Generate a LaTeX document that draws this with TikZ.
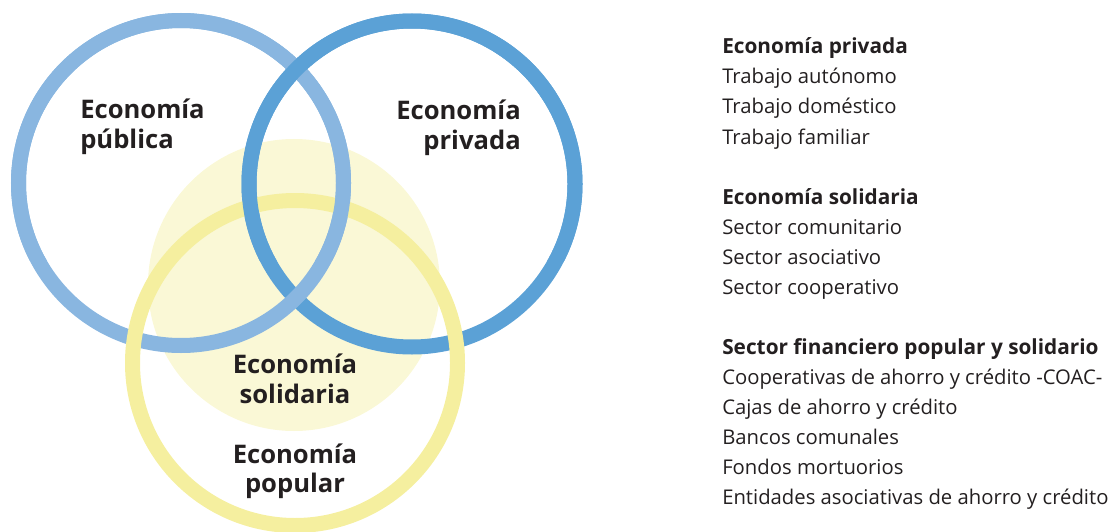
\documentclass[tikz,border=0pt]{standalone}
\usepackage{fontspec}
\setmainfont{Open Sans}
\definecolor{publicaBlue}{HTML}{89B6E0}
\definecolor{privadaBlue}{HTML}{5BA1D6}
\definecolor{popularYellow}{HTML}{F5EF9F}
\definecolor{solidariaFill}{HTML}{FAF8D6}
\definecolor{inkDark}{HTML}{231F20}

\begin{document}
\begin{tikzpicture}[x=0.75pt,y=0.75pt,yscale=-1,xscale=1,
  ring/.style={line width=11.25pt},
  circle label/.style={inner sep=0pt, text=inkDark, font=\bfseries\fontsize{19.2}{22.5}\selectfont},
  list head/.style={anchor=base west, inner sep=0pt, text=inkDark, font=\bfseries\fontsize{15.6}{22.5}\selectfont},
  list item/.style={anchor=base west, inner sep=0pt, text=inkDark, font=\fontsize{15.2}{22.5}\selectfont}]
\useasboundingbox (0,0) rectangle (1119,531);

% Circle centres
\coordinate (publica) at (181,183);
\coordinate (privada) at (412,184);
\coordinate (popular) at (295,363);
\coordinate (solidaria) at (294,285);

% Solidaria disc
\fill [solidariaFill] (solidaria) circle (146);
% Rings
\draw [ring, privadaBlue] (privada) circle (163);
\draw [ring, publicaBlue] (publica) circle (162.5);
\draw [ring, popularYellow] (popular) circle (162.5);
% Upper crossings: blue rings over the yellow one
\begin{scope}
\clip (0,0) rectangle (1119,260);
\draw [ring, publicaBlue] (publica) circle (162.5);
\draw [ring, privadaBlue] (privada) circle (163);
\end{scope}

% Circle labels
\node [circle label, anchor=base west] (lblPublicaA) at (80,118) {Economía};
\node [circle label, anchor=base west] (lblPublicaB) at (80,148) {pública};
\node [circle label, anchor=base east] (lblPrivadaA) at (521,120) {Economía};
\node [circle label, anchor=base east] (lblPrivadaB) at (521,150) {privada};
\node [circle label, anchor=base] (lblSolidariaA) at (295,373) {Economía};
\node [circle label, anchor=base] (lblSolidariaB) at (295,403) {solidaria};
\node [circle label, anchor=base] (lblPopularA) at (295,463) {Economía};
\node [circle label, anchor=base] (lblPopularB) at (295,492) {popular};

% List: Economía privada
\node [list head] (headPrivada) at (722,54) {Economía privada};
\node [list item] (itemAutonomo) at (722,84) {Trabajo autónomo};
\node [list item] (itemDomestico) at (722,114) {Trabajo doméstico};
\node [list item] (itemFamiliar) at (722,144) {Trabajo familiar};

% List: Economía solidaria
\node [list head] (headSolidaria) at (722,204) {Economía solidaria};
\node [list item] (itemComunitario) at (722,234) {Sector comunitario};
\node [list item] (itemAsociativo) at (722,264) {Sector asociativo};
\node [list item] (itemCooperativo) at (722,294) {Sector cooperativo};

% List: Sector financiero
\node [list head] (headFinanciero) at (722,354) {Sector financiero popular y solidario};
\node [list item] (itemCoac) at (722,384) {Cooperativas de ahorro y crédito -COAC-};
\node [list item] (itemCajas) at (722,414) {Cajas de ahorro y crédito};
\node [list item] (itemBancos) at (722,444) {Bancos comunales};
\node [list item] (itemFondos) at (722,474) {Fondos mortuorios};
\node [list item] (itemEntidades) at (722,504) {Entidades asociativas de ahorro y crédito};

\end{tikzpicture}
\end{document}
